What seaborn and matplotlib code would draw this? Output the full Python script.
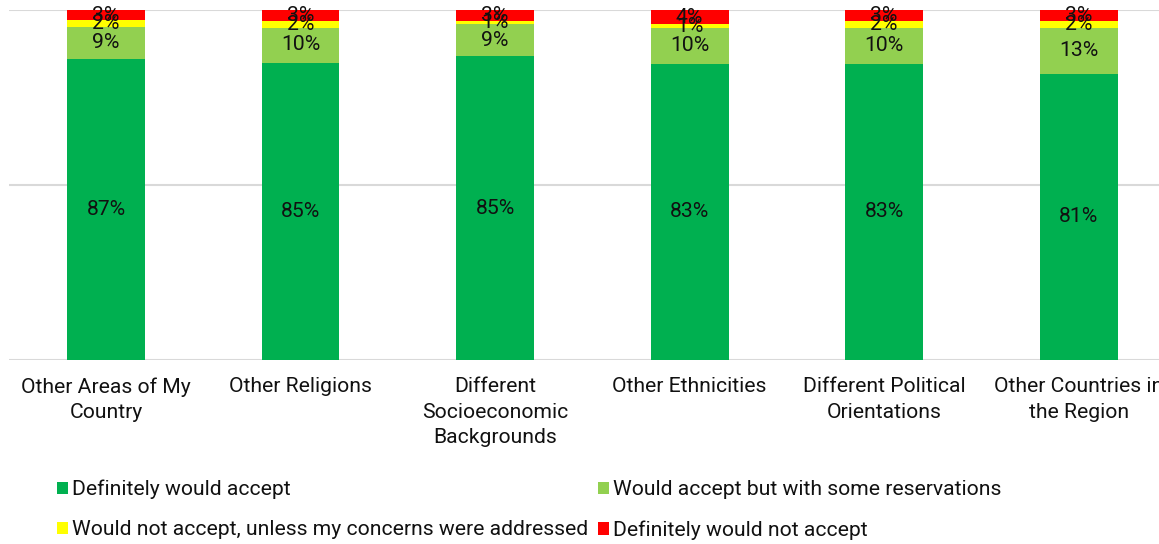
import numpy as np
import pandas as pd
import matplotlib
matplotlib.use("Agg")
import matplotlib.pyplot as plt
from matplotlib.patches import Patch
import seaborn as sns

categories = [
    "Other Areas of My\nCountry",
    "Other Religions",
    "Different\nSocioeconomic\nBackgrounds",
    "Other Ethnicities",
    "Different Political\nOrientations",
    "Other Countries in\nthe Region",
]
definitely_accept = [87, 85, 85, 83, 83, 81]
accept_reservations = [9, 10, 9, 10, 10, 13]
not_unless_addressed = [2, 2, 1, 1, 2, 2]
definitely_not = [3, 3, 3, 4, 3, 3]

series_names = [
    "Definitely would accept",
    "Would accept but with some reservations",
    "Would not accept, unless my concerns were addressed",
    "Definitely would not accept",
]
series_values = [definitely_accept, accept_reservations, not_unless_addressed, definitely_not]
colors = ["#00B050", "#92D050", "#FFFF00", "#FF0000"]

sns.set_theme(style="white")
plt.rcParams["font.family"] = ["Roboto", "DejaVu Sans"]

FS = 15.2
vals = np.array(series_values, dtype=float)
totals = vals.sum(axis=0)
shares = vals / totals * 100  # 100% stacked
cum = np.cumsum(shares, axis=0)

fig = plt.figure(figsize=(11.59, 5.44), dpi=100)
ax = fig.add_axes([8.7 / 1159, (544 - 360) / 544, (1176 - 8.7) / 1159, 350 / 544])

# Draw from the top layer down so each cumulative bar covers the ones below
for i in range(len(series_names) - 1, -1, -1):
    df = pd.DataFrame({"cat": categories, "val": cum[i]})
    sns.barplot(data=df, x="cat", y="val", color=colors[i], width=0.4,
                saturation=1, ax=ax, zorder=3, linewidth=0)

# Segment value labels
for i in range(len(series_names)):
    for j in range(len(categories)):
        base = cum[i - 1][j] if i > 0 else 0
        mid = base + shares[i][j] / 2
        ax.text(j, mid, f"{int(vals[i][j])}%", ha="center", va="center",
                fontsize=FS, color="#111111", zorder=5)

ax.set_xlim(-0.5, len(categories) - 0.5)
ax.set_ylim(0, 100)
ax.set_yticks([0, 50, 100])
ax.set_yticklabels([])
ax.yaxis.grid(True, color="#d9d9d9", linewidth=1.5, zorder=0)
ax.set_axisbelow(True)
for s in ax.spines.values():
    s.set_visible(False)
ax.set_xlabel("")
ax.set_ylabel("")
ax.tick_params(axis="x", length=0, pad=12.5, labelsize=FS, labelcolor="#111111")
ax.tick_params(axis="y", length=0)
for lbl in ax.get_xticklabels():
    lbl.set_linespacing(1.42)

handles = [Patch(facecolor=c, edgecolor="none") for c in colors]
order = [0, 2, 1, 3]
fig.legend([handles[k] for k in order], [series_names[k] for k in order],
           ncol=2, loc="lower left", bbox_to_anchor=(0.042, -0.008),
           frameon=False, fontsize=FS, handlelength=0.52, handleheight=0.52,
           handletextpad=0.2, columnspacing=0.45, labelspacing=1.0,
           labelcolor="#111111", borderaxespad=0.0)

fig.savefig("out.png", dpi=100)
